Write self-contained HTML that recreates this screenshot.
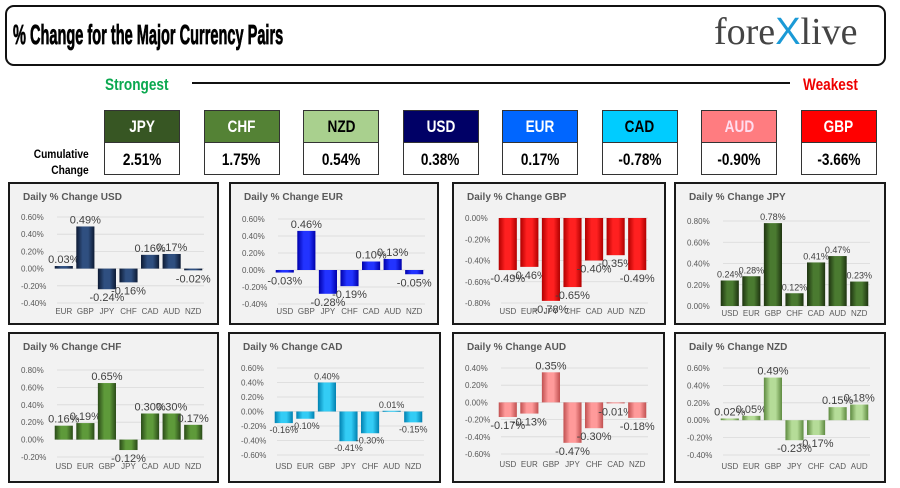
<!DOCTYPE html>
<html><head><meta charset="utf-8">
<style>
*{margin:0;padding:0;box-sizing:border-box}
body{width:900px;height:488px;background:#fff;position:relative;overflow:hidden;font-family:"Liberation Sans",sans-serif}
.abs{position:absolute}
#hdr{left:5px;top:5px;width:881px;height:61px;border:2.5px solid #111;border-radius:9px}
#title{left:13px;top:19px;font-weight:bold;font-size:28px;color:#000;transform:scaleX(0.52);transform-origin:left;-webkit-text-stroke:0.8px #000;white-space:nowrap}
#logo{left:714px;top:10px;font-family:"Liberation Serif",serif;font-size:38px;color:#444}
#logo span{color:#1b9ad6;font-family:"Liberation Sans",sans-serif}
.lab{font-weight:bold;font-size:17px;transform:scaleX(0.8);transform-origin:left}
.cur{width:76px;height:33px;border:1px solid #333;text-align:center;line-height:31px;font-weight:bold;font-size:17px}
.val{width:76px;height:33px;border:1px solid #333;text-align:center;line-height:33px;font-weight:bold;font-size:17px;background:#fff}
.cur span,.val span{display:inline-block;transform:scaleX(0.8)}
</style></head><body>
<div id="hdr" class="abs"></div>
<div id="title" class="abs">% Change for the Major Currency Pairs</div>
<div id="logo" class="abs">fore<span>X</span>live</div>
<div class="abs lab" style="left:105px;top:75px;color:#0aa84f">Strongest</div>
<div class="abs" style="left:192px;top:82px;width:598px;height:2px;background:#111"></div>
<div class="abs lab" style="left:803px;top:75px;color:#ee0000">Weakest</div>
<div class="abs" style="left:24px;top:146px;font-weight:bold;font-size:12px;line-height:16px;text-align:right;width:60px"><span style="display:inline-block;transform:scaleX(0.85);transform-origin:right">Cumulative<br>Change</span></div>
<div id="cards"></div>
<svg id="charts" class="abs" style="left:0;top:0" width="900" height="488"></svg>
<script>
const curNames=["JPY","CHF","NZD","USD","EUR","CAD","AUD","GBP"];
const curVals=["2.51%","1.75%","0.54%","0.38%","0.17%","-0.78%","-0.90%","-3.66%"];
const curBg=["#375623","#548235","#a9d08e","#000066","#0066ff","#00ccff","#ff7c80","#ff0000"];
const curFg=["#fff","#fff","#000","#fff","#fff","#000","#fde","#fff"];
const cards=document.getElementById('cards');
curNames.forEach((n,i)=>{
  const x=104+i*99.5;
  const h=document.createElement('div');
  h.className='abs cur';h.style.left=x+'px';h.style.top='110px';h.style.background=curBg[i];h.style.color=curFg[i];
  h.innerHTML='<span>'+n+'</span>';
  
  
  cards.appendChild(h);
  const v=document.createElement('div');
  v.className='abs val';v.style.left=x+'px';v.style.top='142px';
  v.innerHTML='<span>'+curVals[i]+'</span>';
  
  
  cards.appendChild(v);
});

const usdCats=["EUR","GBP","JPY","CHF","CAD","AUD","NZD"];
const usdVals=[0.03,0.49,-0.24,-0.16,0.16,0.17,-0.02];
const usdTicks=[0.6,0.4,0.2,0,-0.2,-0.4];
const eurCats=["USD","GBP","JPY","CHF","CAD","AUD","NZD"];
const eurVals=[-0.03,0.46,-0.28,-0.19,0.10,0.13,-0.05];
const eurTicks=[0.6,0.4,0.2,0,-0.2,-0.4];
const gbpCats=["USD","EUR","JPY","CHF","CAD","AUD","NZD"];
const gbpVals=[-0.49,-0.46,-0.78,-0.65,-0.40,-0.35,-0.49];
const gbpTicks=[0,-0.2,-0.4,-0.6,-0.8];
const jpyCats=["USD","EUR","GBP","CHF","CAD","AUD","NZD"];
const jpyVals=[0.24,0.28,0.78,0.12,0.41,0.47,0.23];
const jpyTicks=[0.8,0.6,0.4,0.2,0];
const chfCats=["USD","EUR","GBP","JPY","CAD","AUD","NZD"];
const chfVals=[0.16,0.19,0.65,-0.12,0.30,0.30,0.17];
const chfTicks=[0.8,0.6,0.4,0.2,0,-0.2];
const cadCats=["USD","EUR","GBP","JPY","CHF","AUD","NZD"];
const cadVals=[-0.16,-0.10,0.40,-0.41,-0.30,0.01,-0.15];
const cadTicks=[0.6,0.4,0.2,0,-0.2,-0.4,-0.6];
const audCats=["USD","EUR","GBP","JPY","CHF","CAD","NZD"];
const audVals=[-0.17,-0.13,0.35,-0.47,-0.30,-0.01,-0.18];
const audTicks=[0.4,0.2,0,-0.2,-0.4,-0.6];
const nzdCats=["USD","EUR","GBP","JPY","CHF","CAD","AUD"];
const nzdVals=[0.02,0.05,0.49,-0.23,-0.17,0.15,0.18];
const nzdTicks=[0.6,0.4,0.2,0,-0.2,-0.4];

const NS='http://www.w3.org/2000/svg';
const svg=document.getElementById('charts');
const defs=document.createElementNS(NS,'defs');svg.appendChild(defs);
function grad(id,c1,c2){
  const g=document.createElementNS(NS,'linearGradient');g.setAttribute('id',id);
  g.innerHTML='<stop offset="0" stop-color="'+c2+'"/><stop offset="0.35" stop-color="'+c1+'"/><stop offset="0.65" stop-color="'+c1+'"/><stop offset="1" stop-color="'+c2+'"/>';
  defs.appendChild(g);
}
function el(t,a,p){const e=document.createElementNS(NS,t);for(const k in a)e.setAttribute(k,a[k]);(p||svg).appendChild(e);return e;}

function chart(name,bx,by,bw,bh,topOff,botOff,labOff,cats,vals,ticks,c1,c2,fs){
  const g=el('g',{});
  
  
  el('rect',{x:bx,y:by,width:bw,height:bh,fill:'#f2f2f2',stroke:'#1a1a1a','stroke-width':2},g);
  const t=el('text',{x:bx+14,y:by+17,'font-size':10,'font-weight':'bold',fill:'#595959','font-family':'Liberation Sans, sans-serif'},g);
  t.textContent='Daily % Change '+name;
  
  
  const tMax=ticks[0],tMin=ticks[ticks.length-1];
  const y0=by+topOff,y1=by+botOff;
  const ys=v=>y0+(tMax-v)/(tMax-tMin)*(y1-y0);
  const px0=bx+44,px1=bx+195,slot=(px1-px0)/cats.length;
  const xs=i=>px0+slot*i+slot/2;
  ticks.forEach(tk=>{
    const l=el('line',{x1:px0+4,x2:px1,y1:ys(tk),y2:ys(tk),stroke:'#d9d9d9','stroke-width':0.8},g);
    
    
    const tt=el('text',{x:bx+12,y:ys(tk)+3,'font-size':8,fill:'#595959','font-family':'Liberation Sans, sans-serif'},g);
    tt.textContent=tk.toFixed(2)+'%';
    
    
  });
  const gid='g'+name;grad(gid,c1,c2);
  cats.forEach((c,i)=>{
    const v=vals[i];const bwid=slot*0.84;
    const ya=ys(Math.max(v,0)),yb=ys(Math.min(v,0));
    const r=el('rect',{x:xs(i)-bwid/2,y:ya,width:bwid,height:Math.max(yb-ya,1),fill:'url(#'+gid+')'},g);
    
    
    const cl=el('text',{x:xs(i),y:by+labOff,'font-size':8,fill:'#595959','text-anchor':'middle','font-family':'Liberation Sans, sans-serif'},g);
    cl.textContent=c;
    
    
    const vl=el('text',{x:xs(i),y:v>=0?ya-3:yb+fs+1,'font-size':fs,fill:'#404040','text-anchor':'middle','font-family':'Liberation Sans, sans-serif'},g);
    vl.textContent=v.toFixed(2)+'%';
    
    
  });
}
chart('USD',9,183,209,141,34,120,131,usdCats,usdVals,usdTicks,'#2f4f80','#0d1a33',11);
chart('EUR',230,183,208,141,36,121,131,eurCats,eurVals,eurTicks,'#2233ff','#0000aa',11);
chart('GBP',453,183,212,141,35,120,131,gbpCats,gbpVals,gbpTicks,'#ff2020','#b00000',11);
chart('JPY',675,183,210,141,38,123,133,jpyCats,jpyVals,jpyTicks,'#4a7a30','#1e3310',9);
chart('CHF',9,333,209,149,37,124,136,chfCats,chfVals,chfTicks,'#5e9a3a','#2a4a18',11);
chart('CAD',229,333,211,149,35,122,136,cadCats,cadVals,cadTicks,'#33ccf5','#0080b0',9);
chart('AUD',453,333,211,149,35,121,134,audCats,audVals,audTicks,'#ff9a9a','#c05050',11);
chart('NZD',675,333,210,149,35,122,136,nzdCats,nzdVals,nzdTicks,'#b5dc98','#5e8a40',11);
</script>
</body></html>
